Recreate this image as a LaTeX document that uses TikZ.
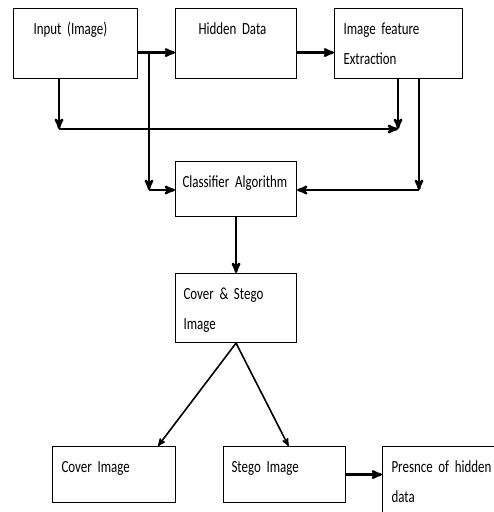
\documentclass[tikz,border=0pt]{standalone}
\usepackage{fontspec}
\setmainfont{Carlito}[FakeStretch=0.76,WordSpace=0.6]
\usepackage{tikz}
\usetikzlibrary{arrows}

\begin{document}
\begin{tikzpicture}[x=1pt,y=-1pt,>=stealth',line width=2.4pt]
\tikzstyle{box} = [draw=black, line width=1.1pt, anchor=north west, align=left, inner ysep=0pt, inner xsep=8pt, text height=26pt, font=\fontsize{17}{30}\selectfont]
\tikzstyle{arrow} = [->, line width=2.4pt]
\tikzstyle{diag} = [->, line width=1.6pt]

\useasboundingbox (0,0) rectangle (494,512);

\node (inp) at (13,8) [box, inner xsep=20pt, text width=84pt, text depth=44pt] {Input (Image)};
\node (hid) at (175,8) [box, inner xsep=23pt, text width=75pt, text depth=44pt] {Hidden Data};
\node (ife) at (334,8) [box, inner xsep=9pt, text width=110pt, text depth=44pt] {Image feature\\Extraction};
\node (cls) at (175,161) [box, inner xsep=7pt, text width=107pt, text depth=29pt] {Classifier Algorithm};
\node (cs) at (175,273) [box, text width=105pt, text depth=43pt] {Cover \& Stego\\Image};
\node (cov) at (52,446) [box, inner xsep=9pt, text width=105pt, text depth=30pt] {Cover Image};
\node (stg) at (223,446) [box, text width=106pt, text depth=30pt] {Stego Image};
\node (pre) at (382,446) [box, inner xsep=9pt, text width=140pt, text depth=64pt] {Presnce of hidden\\data};

% corners and junctions
\coordinate (br) at (149,52);
\coordinate (mc) at (149,190);
\coordinate (lc) at (59,129);
\coordinate (jn) at (398,129);
\coordinate (rc) at (419,190);

\draw[arrow] ([yshift=-9pt]inp.east) -- ([yshift=-9pt]hid.west);
\draw[arrow] ([yshift=-9pt]hid.east) -- ([yshift=-9pt]ife.west);
\draw[arrow] (br) -- (mc);
\draw[arrow] (mc) -- (cls.west |- mc);
\draw[arrow] (inp.south -| lc) -- (lc);
\draw[arrow] (lc) -- (jn);
\draw[arrow] (ife.south -| jn) -- (jn);
\draw[arrow] (ife.south -| rc) -- (rc);
\draw[arrow] (rc) -- (cls.east |- rc);
\draw[arrow] (cls.south) -- (cs.north);
\draw[diag] (cs.south) -- ([xshift=44pt]cov.north);
\draw[diag] (cs.south) -- ([xshift=4pt]stg.north);
\draw[arrow] (stg.east) -- (pre.west |- stg.east);

\end{tikzpicture}
\end{document}
